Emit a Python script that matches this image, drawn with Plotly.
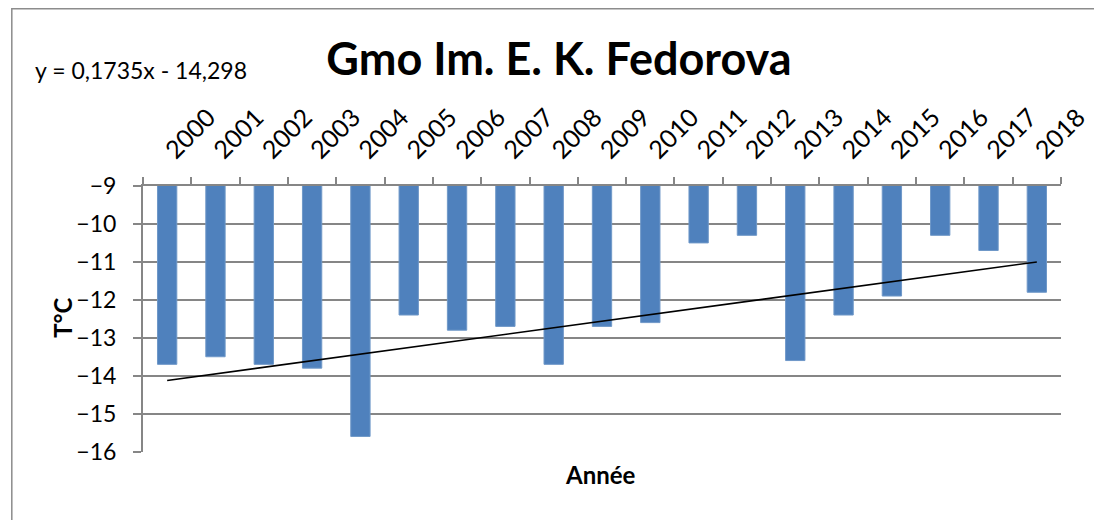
import plotly.graph_objects as go

# yearly mean temperature
years = ['2000', '2001', '2002', '2003', '2004', '2005', '2006', '2007', '2008', '2009',
         '2010', '2011', '2012', '2013', '2014', '2015', '2016', '2017', '2018']
temps = [-13.7, -13.5, -13.7, -13.8, -15.6, -12.4, -12.8, -12.7, -13.7, -12.7,
         -12.6, -10.5, -10.3, -13.6, -12.4, -11.9, -10.3, -10.7, -11.8]

# linear trend as printed on the chart
slope = 0.1735
intercept = -14.298
trend = [slope * (i + 1) + intercept for i in range(len(years))]

y_ticks = [-9, -10, -11, -12, -13, -14, -15, -16]

grid = '#868686'
font_family = 'Lato, Liberation Sans, sans-serif'

# page has an 8px body margin, so figure is 8px smaller and page coords are offset
W, H = 1094, 512
PL, PR, PT, PB = 143, 1082, 186, 452  # plot area in page pixels
pw, ph = PR - PL, PB - PT


def px(x):
    return (x - PL) / pw


def py(y):
    return (PB - y) / ph


fig = go.Figure()
fig.add_trace(go.Bar(x=years, y=temps, marker=dict(color='#4f81bd', line=dict(color='#6f98c8', width=1)),
                     showlegend=False))
fig.add_trace(go.Scatter(x=years, y=trend, mode='lines', line=dict(color='black', width=1.6),
                         showlegend=False))

fig.update_layout(
    width=W, height=H,
    margin=dict(l=PL - 8, r=W - (PR - 8), t=PT - 8, b=H - (PB - 8)),
    plot_bgcolor='white', paper_bgcolor='white',
    font=dict(family=font_family, color='black'),
    bargap=0.6,
    title=dict(text='<b>Gmo Im. E. K. Fedorova</b>', x=(559 - 8) / W, xanchor='center',
               y=1 - (59 - 8) / H, yanchor='middle', font=dict(size=45, family=font_family)),
    xaxis=dict(type='category', side='top', tickangle=-45, tickfont=dict(size=25),
               showline=True, linecolor=grid, linewidth=2, ticks='outside', tickson='boundaries',
               ticklen=7, tickwidth=2, tickcolor=grid, showgrid=False, fixedrange=True,
               ticklabelstandoff=10),
    yaxis=dict(range=[-16.01, -9], tickvals=y_ticks, tickfont=dict(size=23),
               showline=True, linecolor=grid, linewidth=2, ticks='outside', ticklen=8,
               tickwidth=2, tickcolor=grid, showgrid=True, gridcolor=grid, gridwidth=2,
               zeroline=False, ticklabelstandoff=12, fixedrange=True),
    annotations=[
        dict(text='y = 0,1735x - 14,298', xref='paper', yref='paper',
             x=px(30), y=py(70), xanchor='left', yanchor='middle',
             showarrow=False, font=dict(size=23)),
        dict(text='<b>T°C</b>', xref='paper', yref='paper', x=px(60), y=py(318),
             textangle=-90, xanchor='center', yanchor='middle', showarrow=False, font=dict(size=24)),
        dict(text='<b>Année</b>', xref='paper', yref='paper', x=px(611), y=py(474),
             xanchor='center', yanchor='middle', showarrow=False, font=dict(size=24)),
    ],
    shapes=[dict(type='rect', xref='paper', yref='paper', x0=px(8.8), x1=1.2,
                 y0=-0.5, y1=py(8.8), line=dict(color='#8c8c8c', width=1.5), layer='below')],
)

fig.write_html("out.html")
